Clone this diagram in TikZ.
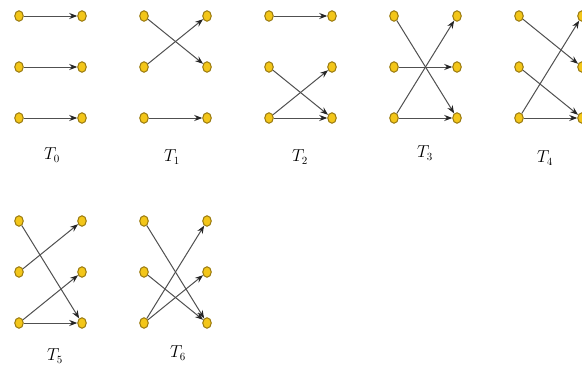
\documentclass[tikz,border=0pt]{standalone}
\usetikzlibrary{arrows.meta,shapes.geometric}
\definecolor{dotfill}{HTML}{F3C619}
\definecolor{dotline}{HTML}{9A7A10}
\definecolor{edgecol}{HTML}{505050}
\newcommand\mkpanel[9]{%
  \node[dot] (#1L1) at (#2,#4) {};
  \node[dot] (#1L2) at (#2,#5) {};
  \node[dot] (#1L3) at (#2,#6) {};
  \node[dot] (#1R1) at (#3,#4) {};
  \node[dot] (#1R2) at (#3,#5) {};
  \node[dot] (#1R3) at (#3,#6) {};
  \node[lab] (#1lab) at (#8,#9) {$#7$};
}
\begin{document}
\begin{tikzpicture}[x=1pt,y=-1pt,
  dot/.style={ellipse,draw=dotline,fill=dotfill,line width=1pt,minimum width=8.5pt,minimum height=10.5pt,inner sep=0pt},
  arr/.style={draw=edgecol,line width=1pt,-{Stealth[length=8pt,width=6pt,color=black!85]}},
  lab/.style={font=\fontsize{16}{16}\selectfont,inner sep=0pt}]
\fill[white] (0,0) rectangle (582,367);
\useasboundingbox (0,0) rectangle (582,367);
\mkpanel{A}{19}{82}{16}{67}{118}{T_0}{52}{155}
\mkpanel{B}{144}{207}{16}{67}{118}{T_1}{172}{157}
\mkpanel{C}{269}{332}{16}{67}{118}{T_2}{300}{157}
\mkpanel{D}{394}{457}{16}{67}{118}{T_3}{425}{153}
\mkpanel{E}{519}{582}{16}{67}{118}{T_4}{545}{158}
\mkpanel{F}{19}{82}{221}{272}{323}{T_5}{55}{356}
\mkpanel{G}{144}{207}{221}{272}{323}{T_6}{178}{353}
% T0
\draw[arr] (AL1) -- (AR1);
\draw[arr] (AL2) -- (AR2);
\draw[arr] (AL3) -- (AR3);
% T1
\draw[arr] (BL1) -- (BR2);
\draw[arr] (BL2) -- (BR1);
\draw[arr] (BL3) -- (BR3);
% T2
\draw[arr] (CL1) -- (CR1);
\draw[arr] (CL2) -- (CR3);
\draw[arr] (CL3) -- (CR2);
\draw[arr] (CL3) -- (CR3);
% T3
\draw[arr] (DL1) -- (DR3);
\draw[arr] (DL2) -- (DR2);
\draw[arr] (DL3) -- (DR1);
\draw[arr] (DL3) -- (DR3);
% T4
\draw[arr] (EL1) -- (ER2);
\draw[arr] (EL2) -- (ER3);
\draw[arr] (EL3) -- (ER1);
\draw[arr] (EL3) -- (ER3);
% T5
\draw[arr] (FL1) -- (FR3);
\draw[arr] (FL2) -- (FR1);
\draw[arr] (FL3) -- (FR2);
\draw[arr] (FL3) -- (FR3);
% T6
\draw[arr] (GL1) -- (GR3);
\draw[arr] (GL2) -- (GR3);
\draw[arr] (GL3) -- (GR1);
\draw[arr] (GL3) -- (GR2);
\end{tikzpicture}
\end{document}
